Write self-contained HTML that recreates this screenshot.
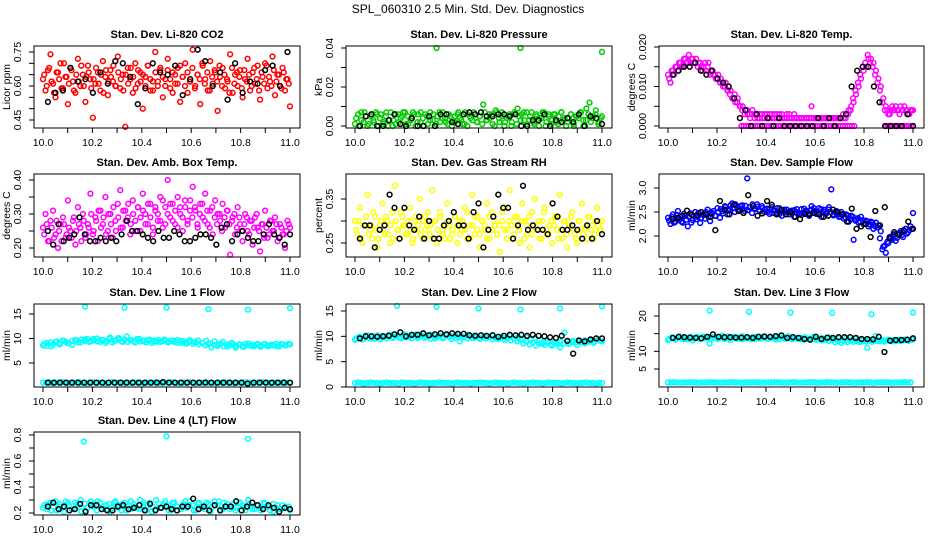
<!DOCTYPE html>
<html><head><meta charset="utf-8">
<style>
html,body{margin:0;padding:0;background:#fff;}
svg{display:block;font-family:"Liberation Sans",sans-serif;}
</style></head>
<body>
<svg id="chart" width="936" height="540" viewBox="0 0 936 540">
<text x="468" y="13" text-anchor="middle" font-size="12">SPL_060310  2.5 Min. Std. Dev. Diagnostics</text>
</svg>
<script>
// ---- data ----
const co2Red=[0.63,0.58,0.67,0.74,0.61,0.55,0.66,0.70,0.59,0.64,0.52,0.68,0.62,0.57,0.72,0.60,0.65,0.53,0.69,0.63,
0.46,0.61,0.66,0.58,0.71,0.64,0.56,0.67,0.62,0.60,0.73,0.59,0.65,0.42,0.68,0.63,0.57,0.70,0.61,0.66,
0.50,0.64,0.69,0.58,0.62,0.75,0.60,0.67,0.55,0.63,0.72,0.59,0.66,0.61,0.68,0.53,0.64,0.70,0.57,0.62,
0.76,0.60,0.65,0.52,0.69,0.63,0.58,0.71,0.61,0.66,0.49,0.64,0.68,0.59,0.62,0.74,0.57,0.65,0.60,0.67,
0.55,0.63,0.72,0.58,0.66,0.61,0.69,0.54,0.64,0.70,0.59,0.62,0.73,0.56,0.65,0.60,0.68,0.58,0.63,0.51];
const co2Red2=[0.65,0.60,0.68,0.62,0.57,0.66,0.63,0.59,0.70,0.64,0.61,0.67,0.58,0.65,0.62,0.69,0.60,0.64,0.66,0.59,
0.63,0.68,0.61,0.65,0.57,0.67,0.62,0.64,0.69,0.60,0.66,0.63,0.58,0.65,0.61,0.68,0.64,0.59,0.67,0.62,
0.65,0.60,0.69,0.63,0.58,0.66,0.62,0.68,0.64,0.60,0.67,0.63,0.57,0.65,0.61,0.69,0.64,0.60,0.66,0.62,
0.68,0.59,0.65,0.63,0.70,0.61,0.66,0.58,0.64,0.67,0.62,0.69,0.60,0.65,0.63,0.57,0.68,0.61,0.66,0.64,
0.59,0.67,0.62,0.65,0.60,0.68,0.63,0.58,0.66,0.61,0.69,0.64,0.60,0.67,0.62,0.65,0.59,0.66,0.63,0.61];
const co2Black=[0.53,0.57,0.58,0.68,0.62,0.63,0.57,0.66,0.61,0.71,0.70,0.64,0.52,0.59,0.70,0.66,0.65,0.69,0.56,0.63,0.76,0.71,0.60,0.66,0.54,0.70,0.57,0.62,0.61,0.67,0.69,0.60,0.75];
const presGreen=[0.001,0.006,0.003,0.007,0.000,0.005,0.002,0.006,0.004,0.001,0.007,0.003,0.000,0.006,0.002,0.005,0.007,0.001,0.004,0.006,0.002,0.007,0.000,0.005,0.003,0.006,0.001,0.007,0.004,0.002,0.006,0.000,0.005,0.007,0.003,0.001,0.006,0.004,0.007,0.002,0.005,0.011,0.003,0.006,0.001,0.008,0.004,0.007,0.002,0.005,0.000,0.006,0.009,0.003,0.007,0.001,0.005,0.002,0.006,0.004,0.007,0.000,0.005,0.003,0.006,0.001,0.007,0.004,0.002,0.006,0.000,0.005,0.007,0.003,0.009,0.012,0.004,0.006,0.002,0.005];
const presGreen2=[0.004,0.000,0.007,0.002,0.005,0.001,0.006,0.003,0.007,0.000,
0.006,0.002,0.005,0.000,0.007,0.003,0.001,0.006,0.004,0.007,
0.001,0.005,0.003,0.007,0.000,0.006,0.002,0.004,0.006,0.001,
0.007,0.003,0.000,0.005,0.002,0.007,0.004,0.001,0.005,0.003,
0.002,0.006,0.004,0.001,0.007,0.000,0.005,0.003,0.006,0.002,
0.005,0.001,0.007,0.003,0.004,0.006,0.000,0.007,0.002,0.005,
0.000,0.004,0.006,0.002,0.007,0.001,0.005,0.006,0.003,0.007,
0.003,0.007,0.001,0.005,0.000,0.004,0.007,0.002,0.006,0.001,
0.006,0.002,0.005,0.007,0.003,0.000,0.004,0.006,0.001,0.005,
0.004,0.007,0.000,0.003,0.006,0.002,0.005,0.008,0.001,0.004];
const presOutX=[10.33,10.67,11.0];
const presOutY=[0.040,0.040,0.038];
const presBlack=[0.000,0.005,0.006,0.000,0.000,0.003,0.006,0.001,0.000,0.004,0.000,0.000,0.005,0.000,0.006,0.006,0.002,0.001,0.006,0.007,0.006,0.007,0.005,0.005,0.006,0.006,0.005,0.006,0.000,0.000,0.003,0.003,0.006,0.000,0.003,0.002,0.004,0.002,0.006,0.000,0.005,0.004,0.001];
const tempMag=[0.013,0.011,0.014,0.015,0.014,0.016,0.015,0.017,0.016,0.016,0.017,0.016,0.015,0.016,0.014,0.016,0.015,0.013,0.014,0.013,
0.012,0.011,0.011,0.010,0.009,0.008,0.007,0.008,0.006,0.005,0.004,0.003,0.004,0.003,0.003,0.002,0.003,0.002,0.003,0.002,
0.003,0.002,0.003,0.002,0.002,0.003,0.002,0.002,0.003,0.002,0.002,0.002,0.002,0.002,0.002,0.002,0.002,0.002,0.005,0.002,
0.002,0.002,0.002,0.002,0.002,0.002,0.002,0.002,0.002,0.002,0.002,0.002,0.003,0.004,0.005,0.006,0.008,0.010,0.012,0.014,
0.015,0.017,0.017,0.016,0.014,0.012,0.010,0.007,0.005,0.003,0.004,0.004,0.005,0.004,0.005,0.004,0.004,0.003,0.004,0.004];
const tempMag2=[0.012,0.014,0.013,0.015,0.016,0.015,0.017,0.016,0.018,0.017,
0.016,0.017,0.016,0.015,0.015,0.014,0.016,0.014,0.013,0.012,
0.013,0.012,0.010,0.011,0.009,0.009,0.007,0.006,0.007,0.005,
0.005,0.004,0.003,0.002,0.004,0.003,0.002,0.003,0.002,0.003,
0.002,0.003,0.002,0.003,0.003,0.002,0.003,0.002,0.002,0.003,
0.002,0.003,0.002,0.002,0.002,0.002,0.002,0.002,0.002,0.002,
0.002,0.002,0.002,0.002,0.002,0.002,0.002,0.002,0.002,0.002,
0.002,0.003,0.002,0.003,0.004,0.007,0.009,0.011,0.013,0.015,
0.016,0.018,0.016,0.015,0.013,0.011,0.009,0.006,0.004,0.004,
0.003,0.005,0.004,0.004,0.003,0.004,0.005,0.004,0.003,0.004];
const tempZeroA=[0,0,0,0,0,0,0,0,0,0,0,0,0,0,0,0,0,0,0,0,0,0,0,0,0,0,0,0,0,0,0,0,0,0,0,0,0,0,0,0,0,0,0,0,0,0,0,0,0,0];
const tempZeroB=[0,0,0,0,0,0,0,0,0,0,0,0,0,0];
const tempBlack=[0.013,0.014,0.015,0.015,0.016,0.014,0.013,0.014,0.012,0.011,0.010,0.007,0.002,0.004,0.000,0.003,0.000,0.002,0.000,0.002,0.000,0.000,0.000,0.000,0.000,0.000,0.002,0.000,0.002,0.000,0.002,0.003,0.010,0.014,0.015,0.015,0.010,0.006,0.000,0.000,0.000,0.000,0.003,0.000];
const ambMag=[0.26,0.30,0.22,0.28,0.31,0.24,0.20,0.27,0.29,0.23,0.34,0.25,0.28,0.21,0.32,0.26,0.30,0.23,0.27,0.36,
0.24,0.29,0.22,0.31,0.27,0.35,0.25,0.30,0.23,0.28,0.33,0.37,0.26,0.31,0.29,0.24,0.34,0.28,0.32,0.25,
0.36,0.30,0.27,0.33,0.24,0.31,0.28,0.35,0.26,0.32,0.40,0.29,0.33,0.27,0.35,0.30,0.25,0.32,0.28,0.34,
0.38,0.31,0.26,0.33,0.29,0.36,0.27,0.31,0.24,0.34,0.30,0.28,0.33,0.26,0.31,0.18,0.29,0.24,0.32,0.27,
0.22,0.30,0.25,0.28,0.21,0.29,0.26,0.19,0.27,0.31,0.23,0.28,0.25,0.29,0.22,0.27,0.24,0.20,0.28,0.26];
const ambMag2=[0.24,0.27,0.22,0.26,0.23,0.28,0.25,0.22,0.27,0.24,
0.26,0.23,0.29,0.25,0.27,0.22,0.28,0.24,0.26,0.30,
0.25,0.28,0.31,0.26,0.29,0.24,0.30,0.27,0.32,0.25,
0.29,0.26,0.31,0.28,0.33,0.27,0.30,0.25,0.32,0.29,
0.31,0.27,0.33,0.29,0.26,0.32,0.30,0.28,0.34,0.27,
0.30,0.33,0.28,0.31,0.26,0.32,0.29,0.34,0.27,0.31,
0.29,0.32,0.27,0.30,0.33,0.28,0.31,0.26,0.32,0.29,
0.27,0.30,0.25,0.29,0.31,0.27,0.28,0.30,0.26,0.29,
0.25,0.27,0.29,0.24,0.28,0.26,0.30,0.25,0.27,0.23,
0.26,0.24,0.28,0.25,0.27,0.23,0.26,0.24,0.25,0.27];
const ambBlack=[0.25,0.21,0.27,0.22,0.23,0.24,0.29,0.24,0.22,0.22,0.23,0.22,0.23,0.22,0.24,0.28,0.25,0.25,0.24,0.23,0.22,0.25,0.23,0.23,0.25,0.24,0.22,0.22,0.23,0.24,0.24,0.23,0.21,0.26,0.27,0.22,0.24,0.25,0.23,0.22,0.22,0.24,0.27,0.24,0.23,0.21,0.24];
const rhYellow=[0.30,0.27,0.33,0.25,0.29,0.36,0.28,0.26,0.31,0.24,0.29,0.34,0.27,0.30,0.25,0.32,0.38,0.28,0.26,0.31,
0.29,0.27,0.33,0.25,0.30,0.28,0.35,0.26,0.31,0.29,0.27,0.37,0.30,0.25,0.32,0.28,0.26,0.34,0.29,0.27,
0.31,0.25,0.30,0.28,0.33,0.26,0.29,0.36,0.27,0.31,0.24,0.30,0.28,0.34,0.26,0.32,0.29,0.27,0.23,0.30,
0.33,0.28,0.37,0.26,0.31,0.29,0.25,0.34,0.30,0.27,0.24,0.32,0.35,0.28,0.26,0.30,0.33,0.27,0.29,0.25,
0.31,0.28,0.36,0.26,0.30,0.24,0.29,0.32,0.27,0.25,0.30,0.34,0.28,0.26,0.31,0.29,0.27,0.33,0.28,0.30];
const rhYellow2=[0.28,0.30,0.26,0.29,0.31,0.27,0.29,0.32,0.28,0.26,
0.30,0.28,0.31,0.27,0.29,0.26,0.30,0.28,0.32,0.29,
0.27,0.30,0.28,0.26,0.31,0.29,0.27,0.30,0.28,0.32,
0.29,0.26,0.30,0.28,0.31,0.27,0.29,0.30,0.26,0.28,
0.31,0.29,0.27,0.30,0.28,0.32,0.26,0.29,0.31,0.28,
0.27,0.30,0.29,0.26,0.31,0.28,0.30,0.27,0.29,0.32,
0.28,0.26,0.30,0.29,0.27,0.31,0.28,0.30,0.26,0.29,
0.31,0.27,0.29,0.28,0.30,0.26,0.32,0.28,0.27,0.30,
0.29,0.31,0.26,0.28,0.30,0.27,0.29,0.31,0.28,0.26,
0.30,0.28,0.27,0.29,0.31,0.28,0.26,0.30,0.29,0.28];
const rhBlack=[0.26,0.29,0.29,0.24,0.28,0.29,0.36,0.33,0.26,0.33,0.29,0.28,0.31,0.26,0.30,0.26,0.26,0.29,0.30,0.32,0.29,0.29,0.26,0.32,0.34,0.24,0.28,0.31,0.36,0.33,0.33,0.26,0.29,0.38,0.28,0.29,0.28,0.28,0.27,0.34,0.31,0.28,0.28,0.29,0.28,0.26,0.29,0.26,0.30,0.27];
const flowBlue=[2.38,2.25,2.45,2.30,2.52,2.35,2.28,2.42,2.20,2.47,2.33,2.50,2.40,2.27,2.45,2.36,2.55,2.31,2.48,2.42,
2.58,2.38,2.52,2.62,2.45,2.56,2.68,2.50,2.60,2.55,2.64,2.52,3.20,2.60,2.48,2.58,2.66,2.54,2.62,2.50,
2.57,2.46,2.60,2.53,2.48,2.58,2.42,2.55,2.50,2.45,2.53,2.40,2.56,2.48,2.44,2.57,2.50,2.42,2.62,2.52,
2.46,2.58,2.40,2.55,2.48,2.60,2.97,2.45,2.52,2.40,2.50,2.36,2.45,2.30,2.42,1.92,2.35,2.28,2.40,2.25,
2.32,2.20,2.30,2.15,2.28,2.22,2.10,1.78,1.65,1.85,1.95,2.02,1.90,2.05,2.10,1.98,2.15,2.08,2.20,2.48];
const flowBlue2=[2.32,2.40,2.28,2.44,2.36,2.30,2.46,2.34,2.40,2.28,
2.42,2.35,2.48,2.38,2.44,2.50,2.40,2.46,2.52,2.42,
2.50,2.56,2.47,2.60,2.53,2.64,2.58,2.66,2.55,2.62,
2.57,2.63,2.54,2.60,2.66,2.56,2.61,2.52,2.58,2.55,
2.50,2.56,2.48,2.53,2.58,2.46,2.52,2.49,2.55,2.51,
2.47,2.54,2.50,2.45,2.56,2.49,2.53,2.47,2.55,2.58,
2.52,2.48,2.56,2.51,2.46,2.55,2.50,2.43,2.48,2.45,
2.40,2.46,2.38,2.42,2.35,2.40,2.32,2.37,2.30,2.33,
2.26,2.30,2.24,2.28,2.20,2.18,1.95,1.72,1.80,1.88,
1.98,1.92,2.04,1.96,2.06,2.02,2.10,2.05,2.12,2.15];
const flowBlack=[2.35,2.38,2.42,2.53,2.44,2.43,2.50,2.45,2.40,2.12,2.73,2.55,2.45,2.65,2.52,2.48,2.85,2.62,2.42,2.47,2.73,2.65,2.45,2.55,2.45,2.50,2.40,2.35,2.46,2.45,2.48,2.45,2.40,2.42,2.55,2.50,2.45,2.30,2.57,2.15,2.20,2.25,1.98,2.52,2.22,2.60,1.95,2.08,2.02,2.12,2.30,2.15];
const l1Cyan=[8.6,9.1,8.4,9.3,8.8,9.5,9.0,8.7,9.6,9.2,9.8,9.3,9.9,9.4,9.7,9.1,10.2,9.5,9.8,9.3,10.4,9.6,9.2,9.9,9.4,9.7,9.1,9.6,9.3,9.8,9.4,9.6,9.2,9.5,9.0,9.7,9.3,9.6,9.1,9.5,9.0,9.4,8.8,9.3,8.4,9.1,8.1,8.8,8.3,9.0,8.5,8.8,8.3,8.9,8.5,8.7,8.4,8.9,8.6,8.8];
const l1Cyan2=[8.9,8.5,9.2,8.8,9.4,9.1,9.6,9.3,9.0,9.5,9.7,9.2,9.8,9.5,9.9,9.4,9.6,10.0,9.3,9.7,
9.5,9.9,9.2,9.6,10.1,9.4,9.8,9.3,9.7,9.5,9.9,9.4,9.6,9.2,9.8,9.5,9.3,9.7,9.4,9.6,
9.2,9.5,9.3,9.7,9.1,9.4,9.0,9.3,8.9,9.2,8.8,9.1,8.6,8.9,8.2,8.7,8.5,8.9,8.4,8.8,
8.6,8.9,8.5,8.8,8.4,8.9,8.6,8.7,8.5,8.9,8.6,8.8,8.5,8.7,8.6,8.9,8.4,8.8,8.7,8.9];
const l1CyanLow=[1.0,1.0,1.1,0.9,1.0,1.0,1.1,1.0,0.9,1.0,1.0,1.1,1.0,1.0,0.9,1.0,1.1,1.0,1.0,1.0,0.9,1.0,1.1,1.0,1.0,1.0,0.9,1.0,1.0,1.1,1.0,1.0,0.9,1.0,1.0,1.0,1.1,1.0,0.9,1.0,
1.0,1.1,1.0,0.9,1.0,1.0,1.0,1.1,1.0,0.9,1.0,1.0,1.1,1.0,1.0,0.9,1.0,1.0,1.1,1.0,1.0,0.9,1.0,1.0,1.0,1.1,1.0,0.9,1.0,1.0,1.1,1.0,1.0,0.9,1.0,1.0,1.0,1.1,1.0,1.0];
const l1OutX=[10.17,10.33,10.5,10.67,10.83,11.0];
const l1OutY=[16.5,16.3,16.3,16.0,15.9,16.2];
const l1Black=[1.0,1.0,1.0,1.0,1.0,1.0,1.0,1.0,1.0,1.0,1.0,1.0,1.0,1.0,1.0,1.0,1.0,1.0,1.0,1.1,1.0,1.0,1.0,1.0,1.0,1.0,1.0,1.0,1.0,1.0,1.0,1.0,1.0,0.8,1.0,1.0,1.0,1.0,1.0,1.0,1.0];
const l2Cyan=[9.3,9.8,9.5,10.2,9.6,10.0,9.4,9.9,10.3,9.7,10.1,9.6,10.4,9.8,10.2,9.7,10.5,9.9,10.3,9.6,10.1,9.8,10.4,9.5,10.2,9.0,9.9,10.3,9.7,10.1,9.6,10.0,9.8,10.2,9.5,9.9,9.7,10.1,9.6,9.9,9.4,9.8,9.3,9.7,9.2,8.8,9.0,8.2,8.7,7.8,10.7,8.5,8.9,8.3,8.8,8.6,9.1,8.7,9.2,9.0];
const l2Cyan2=[9.6,9.9,9.4,10.1,9.7,10.0,9.5,10.2,9.8,10.0,9.6,10.3,9.9,10.1,9.7,10.2,9.8,10.0,9.6,10.3,
9.9,10.1,9.7,10.2,9.5,10.0,9.8,10.1,9.6,10.2,9.9,10.0,9.7,10.1,9.8,9.9,9.6,10.0,9.7,9.9,
9.5,9.8,9.6,9.9,9.4,9.7,9.5,9.8,9.3,9.6,9.2,9.5,9.0,9.3,8.6,9.0,8.4,8.8,8.2,8.6,
8.5,8.3,8.7,8.4,8.8,8.5,8.9,8.6,9.0,8.7,9.1,8.8,9.0,8.9,9.2,8.9,9.1,9.0,9.3,9.1];
const l2CyanLow=[0.8,0.9,0.8,0.7,0.8,0.9,0.8,0.8,0.7,0.8,0.9,0.8,0.8,0.8,0.7,0.9,0.8,0.8,0.8,0.7,0.8,0.9,0.8,0.8,0.7,0.8,0.8,0.9,0.8,0.8,0.8,0.7,0.8,0.9,0.8,0.8,0.8,0.7,0.8,0.8,
0.9,0.8,0.8,0.7,0.8,0.9,0.8,0.8,0.8,0.7,0.8,0.9,0.8,0.8,0.7,0.8,0.8,0.9,0.8,0.8,0.7,0.8,0.9,0.8,0.8,0.8,0.7,0.8,0.9,0.8,0.8,0.7,0.8,0.8,0.9,0.8,0.8,0.7,0.8,0.8];
const l2OutX=[10.17,10.33,10.5,10.67,10.83,11.0];
const l2OutY=[16.0,15.8,15.5,15.3,15.5,15.9];
const l2Black=[9.6,10.0,10.0,9.9,10.0,10.1,10.4,10.8,10.0,10.3,10.3,10.6,10.2,10.4,10.6,10.4,10.6,10.5,10.5,10.2,10.1,10.2,10.1,10.2,9.9,10.1,10.3,10.2,10.3,10.1,10.3,10.1,10.0,9.8,9.7,10.1,9.1,6.6,9.2,9.0,9.4,9.6,9.6];
const l3Cyan=[13.2,14.0,13.5,14.2,13.4,13.9,13.1,14.1,13.6,13.8,12.2,14.0,13.5,14.4,13.7,13.2,14.1,13.6,14.3,13.8,13.4,14.0,13.6,14.2,13.5,13.9,13.3,14.1,13.7,14.3,13.5,13.9,13.4,14.0,13.6,14.1,13.5,13.8,13.3,13.9,13.4,13.7,13.2,13.8,13.1,13.6,12.8,13.4,11.0,13.2,14.3,12.9,13.1,13.3,12.8,13.2,12.9,13.3,13.0,13.4];
const l3Cyan2=[13.5,13.8,13.3,14.0,13.6,13.9,13.4,14.1,13.7,13.9,13.5,14.2,13.8,14.0,13.6,14.1,13.7,13.9,13.5,14.2,
13.8,14.0,13.6,14.1,13.4,13.9,13.7,14.0,13.5,14.1,13.8,13.9,13.6,14.0,13.7,13.8,13.5,13.9,13.6,13.8,
13.4,13.7,13.5,13.8,13.3,13.6,13.4,13.7,13.2,13.5,13.1,13.4,12.9,13.2,12.6,12.9,12.4,12.8,12.6,13.0,
12.7,12.9,12.6,13.0,12.8,13.1,12.7,13.0,12.9,13.2,12.8,13.1,13.0,13.2,12.9,13.3,13.1,13.2,13.0,13.3];
const l3CyanLow=[1.2,1.2,1.3,1.2,1.1,1.2,1.2,1.3,1.2,1.2,1.1,1.2,1.2,1.2,1.3,1.2,1.2,1.1,1.2,1.2,1.2,1.3,1.2,1.2,1.1,1.2,1.2,1.2,1.3,1.2,1.2,1.1,1.2,1.2,1.2,1.3,1.2,1.2,1.1,1.2,
1.2,1.3,1.2,1.1,1.2,1.2,1.2,1.3,1.2,1.1,1.2,1.2,1.3,1.2,1.2,1.1,1.2,1.2,1.3,1.2,1.2,1.1,1.2,1.2,1.2,1.3,1.2,1.1,1.2,1.2,1.3,1.2,1.2,1.1,1.2,1.2,1.2,1.3,1.2,1.2];
const l3OutX=[10.17,10.33,10.5,10.67,10.83,11.0];
const l3OutY=[21.5,21.2,21.0,20.9,20.5,21.0];
const l3Black=[13.8,14.1,14.0,13.9,13.8,13.7,14.1,14.8,14.1,14.0,14.0,13.9,13.9,14.0,13.8,14.1,14.2,14.1,14.3,14.5,13.8,14.0,13.8,13.5,13.3,14.1,13.5,13.9,13.8,14.0,14.0,14.0,13.8,13.5,13.5,13.4,14.1,9.8,13.0,13.2,13.2,13.3,13.7];
const l4Cyan=[0.24,0.27,0.22,0.29,0.25,0.21,0.28,0.23,0.26,0.30,0.22,0.27,0.25,0.29,0.23,0.26,0.21,0.28,0.24,0.27,0.22,0.29,0.25,0.23,0.28,0.26,0.21,0.30,0.24,0.27,0.22,0.28,0.25,0.23,0.29,0.26,0.22,0.27,0.24,0.28,0.21,0.26,0.29,0.23,0.27,0.25,0.22,0.28,0.24,0.30,0.23,0.26,0.22,0.27,0.25,0.21,0.26,0.23,0.25,0.22];
const l4Cyan2=[0.26,0.23,0.28,0.25,0.22,0.27,0.24,0.29,0.26,0.23,0.28,0.25,0.21,0.27,0.24,0.29,0.26,0.22,0.28,0.25,
0.23,0.27,0.24,0.29,0.26,0.22,0.28,0.25,0.23,0.27,0.24,0.30,0.26,0.22,0.28,0.25,0.23,0.27,0.24,0.29,
0.26,0.22,0.28,0.25,0.23,0.27,0.24,0.29,0.26,0.22,0.28,0.25,0.23,0.27,0.24,0.29,0.26,0.22,0.28,0.25,
0.23,0.27,0.24,0.28,0.26,0.22,0.27,0.25,0.23,0.26,0.24,0.28,0.25,0.22,0.27,0.24,0.23,0.26,0.24,0.25];
const l4OutX=[10.165,10.5,10.83];
const l4OutY=[0.75,0.79,0.77];
const l4Black=[0.25,0.28,0.23,0.25,0.22,0.23,0.27,0.21,0.26,0.26,0.23,0.22,0.22,0.25,0.26,0.23,0.24,0.26,0.22,0.27,0.22,0.24,0.25,0.23,0.22,0.25,0.25,0.31,0.23,0.25,0.22,0.26,0.22,0.25,0.25,0.29,0.22,0.25,0.28,0.26,0.23,0.26,0.24,0.21,0.24,0.23];
const xTickVals=[10.0,10.1,10.2,10.3,10.4,10.5,10.6,10.7,10.8,10.9,11.0];
const xTickLabels=["10.0","","10.2","","10.4","","10.6","","10.8","","11.0"];

// ---- layout ----
const cols=[{bl:34,br:300,x0:43,x1:290},{bl:346,br:612,x0:355,x1:602},{bl:659,br:924,x0:668,x1:913}];
const rows=[{t:46,b:128},{t:174,b:257},{t:304,b:387},{t:432,b:515}];
const RED="#ff0000",GRN="#00cc00",MAG="#ff00ff",YEL="#ffff00",BLU="#0000ff",CYN="#00ffff",BLK="#000000";
const panels=[
 {name:"co2",title:"Stan. Dev. Li-820 CO2",yl:"Licor ppm",c:0,r:0,a:[0.45,120,0.75,52],ticks:[0.45,0.5,0.55,0.6,0.65,0.7,0.75],labels:["0.45","","","0.60","","","0.75"],
  series:[{v:co2Red,col:RED,x0:10,x1:11},{v:co2Red2,col:RED,x0:10.005,x1:10.995},{v:co2Black,col:BLK,x0:10.02,x1:10.99}]},
 {name:"pressure",title:"Stan. Dev. Li-820 Pressure",yl:"kPa",c:1,r:0,a:[0,126,0.04,48],ticks:[0,0.01,0.02,0.03,0.04],labels:["0.00","","0.02","","0.04"],
  series:[{v:presGreen,col:GRN,x0:10,x1:11},{v:presGreen2,col:GRN,x0:10.005,x1:10.995},{xs:presOutX,v:presOutY,col:GRN},{v:presBlack,col:BLK,x0:10.02,x1:11}]},
 {name:"temp",title:"Stan. Dev. Li-820 Temp.",yl:"degrees C",c:2,r:0,a:[0,126,0.02,47],ticks:[0,0.005,0.01,0.015,0.02],labels:["0.000","","0.010","","0.020"],
  series:[{v:tempMag,col:MAG,x0:10,x1:11},{v:tempMag2,col:MAG,x0:10.005,x1:10.995},{v:tempZeroA,col:MAG,x0:10.30,x1:10.76},{v:tempZeroB,col:MAG,x0:10.89,x1:11.0},{v:tempBlack,col:BLK,x0:10.02,x1:11}]},
 {name:"amb-temp",title:"Stan. Dev. Amb. Box Temp.",yl:"degrees C",c:0,r:1,a:[0.2,248,0.4,180],ticks:[0.2,0.25,0.3,0.35,0.4],labels:["0.20","","0.30","","0.40"],
  series:[{v:ambMag,col:MAG,x0:10,x1:11},{v:ambMag2,col:MAG,x0:10.005,x1:10.995},{v:ambBlack,col:BLK,x0:10.02,x1:11}]},
 {name:"rh",title:"Stan. Dev. Gas Stream RH",yl:"percent",c:1,r:1,a:[0.25,243,0.35,199],ticks:[0.25,0.3,0.35],labels:["0.25","","0.35"],
  series:[{v:rhYellow,col:YEL,x0:10,x1:11},{v:rhYellow2,col:YEL,x0:10.005,x1:10.995},{v:rhBlack,col:BLK,x0:10.02,x1:11}]},
 {name:"sample-flow",title:"Stan. Dev. Sample Flow",yl:"ml/min",c:2,r:1,a:[2.0,236,3.0,188],ticks:[2.0,2.5,3.0],labels:["2.0","2.5","3.0"],
  series:[{v:flowBlue,col:BLU,x0:10,x1:11},{v:flowBlue2,col:BLU,x0:10.005,x1:10.995},{v:flowBlack,col:BLK,x0:10.02,x1:11}]},
 {name:"line1-flow",title:"Stan. Dev. Line 1 Flow",yl:"ml/min",c:0,r:2,a:[5,363,15,314],ticks:[5,10,15],labels:["5","10","15"],
  series:[{v:l1Cyan,col:CYN,x0:10,x1:11},{v:l1Cyan2,col:CYN,x0:10.005,x1:10.995},{v:l1CyanLow,col:CYN,x0:10,x1:11},{xs:l1OutX,v:l1OutY,col:CYN},{v:l1Black,col:BLK,x0:10.02,x1:11}]},
 {name:"line2-flow",title:"Stan. Dev. Line 2 Flow",yl:"ml/min",c:1,r:2,a:[0,387,15,311],ticks:[0,5,10,15],labels:["0","5","10","15"],
  series:[{v:l2Cyan,col:CYN,x0:10,x1:11},{v:l2Cyan2,col:CYN,x0:10.005,x1:10.995},{v:l2CyanLow,col:CYN,x0:10,x1:11},{xs:l2OutX,v:l2OutY,col:CYN},{v:l2Black,col:BLK,x0:10.02,x1:11}]},
 {name:"line3-flow",title:"Stan. Dev. Line 3 Flow",yl:"ml/min",c:2,r:2,a:[5,369,20,316],ticks:[5,10,15,20],labels:["5","10","","20"],
  series:[{v:l3Cyan,col:CYN,x0:10,x1:11},{v:l3Cyan2,col:CYN,x0:10.005,x1:10.995},{v:l3CyanLow,col:CYN,x0:10,x1:10.99},{xs:l3OutX,v:l3OutY,col:CYN},{v:l3Black,col:BLK,x0:10.02,x1:11}]},
 {name:"line4-flow",title:"Stan. Dev. Line 4 (LT) Flow",yl:"ml/min",c:0,r:3,a:[0.2,513,0.8,435],ticks:[0.2,0.3,0.4,0.5,0.6,0.7,0.8],labels:["0.2","","0.4","","0.6","","0.8"],
  series:[{v:l4Cyan,col:CYN,x0:10,x1:11},{v:l4Cyan2,col:CYN,x0:10.005,x1:10.995},{xs:l4OutX,v:l4OutY,col:CYN},{v:l4Black,col:BLK,x0:10.02,x1:11}]}
];

const NS="http://www.w3.org/2000/svg";
const svg=document.getElementById("chart");
function mk(tag,attrs,parent){const e=document.createElementNS(NS,tag);for(const k in attrs)e.setAttribute(k,attrs[k]);parent.appendChild(e);return e;}

panels.forEach(p=>{
  const C=cols[p.c],R=rows[p.r];
  const g=mk("g",{},svg);
  
  
  const xs=v=>C.x0+(v-10)*(C.x1-C.x0);
  const ys=v=>p.a[1]+(v-p.a[0])*(p.a[3]-p.a[1])/(p.a[2]-p.a[0]);
  const t=mk("text",{x:(C.bl+C.br)/2,y:R.t-8,"text-anchor":"middle","font-size":"11","font-weight":"bold"},g);
  t.textContent=p.title;
  
  
  const pg=mk("g",{fill:"none","stroke-width":"1.5"},g);
  
  
  p.series.forEach(s=>{
    const n=s.v.length;
    s.v.forEach((val,i)=>{
      const xv=s.xs?s.xs[i]:(n>1?s.x0+(s.x1-s.x0)*i/(n-1):s.x0);
      const c=mk("circle",{cx:xs(xv).toFixed(1),cy:ys(val).toFixed(1),r:"2.4",stroke:s.col},pg);
      
      
    });
  });
  const box=mk("rect",{x:C.bl,y:R.t,width:C.br-C.bl,height:R.b-R.t,fill:"none",stroke:"#000","stroke-width":"1"},g);
  
  
  const xa=mk("g",{},g);
  
  
  xTickVals.forEach((v,i)=>{
    const X=xs(v);
    mk("line",{x1:X,x2:X,y1:R.b,y2:R.b+5,stroke:"#000"},xa);
    if(xTickLabels[i]){const tl=mk("text",{x:X,y:R.b+18,"text-anchor":"middle","font-size":"10.5"},xa);tl.textContent=xTickLabels[i];}
  });
  const ya=mk("g",{},g);
  
  
  p.ticks.forEach((v,i)=>{
    const Y=ys(v);
    mk("line",{x1:C.bl-5,x2:C.bl,y1:Y,y2:Y,stroke:"#000"},ya);
    if(p.labels[i]){const lx=C.bl-13;const tl=mk("text",{x:lx,y:Y,"text-anchor":"middle","font-size":"10.5",transform:`rotate(-90 ${lx} ${Y})`},ya);tl.textContent=p.labels[i];}
  });
  const ymid=(R.t+R.b)/2, tx=C.bl-24;
  const yt=mk("text",{x:tx,y:ymid,"text-anchor":"middle","font-size":"10.5",transform:`rotate(-90 ${tx} ${ymid})`},g);
  yt.textContent=p.yl;
  
  
});
</script>
</body></html>
